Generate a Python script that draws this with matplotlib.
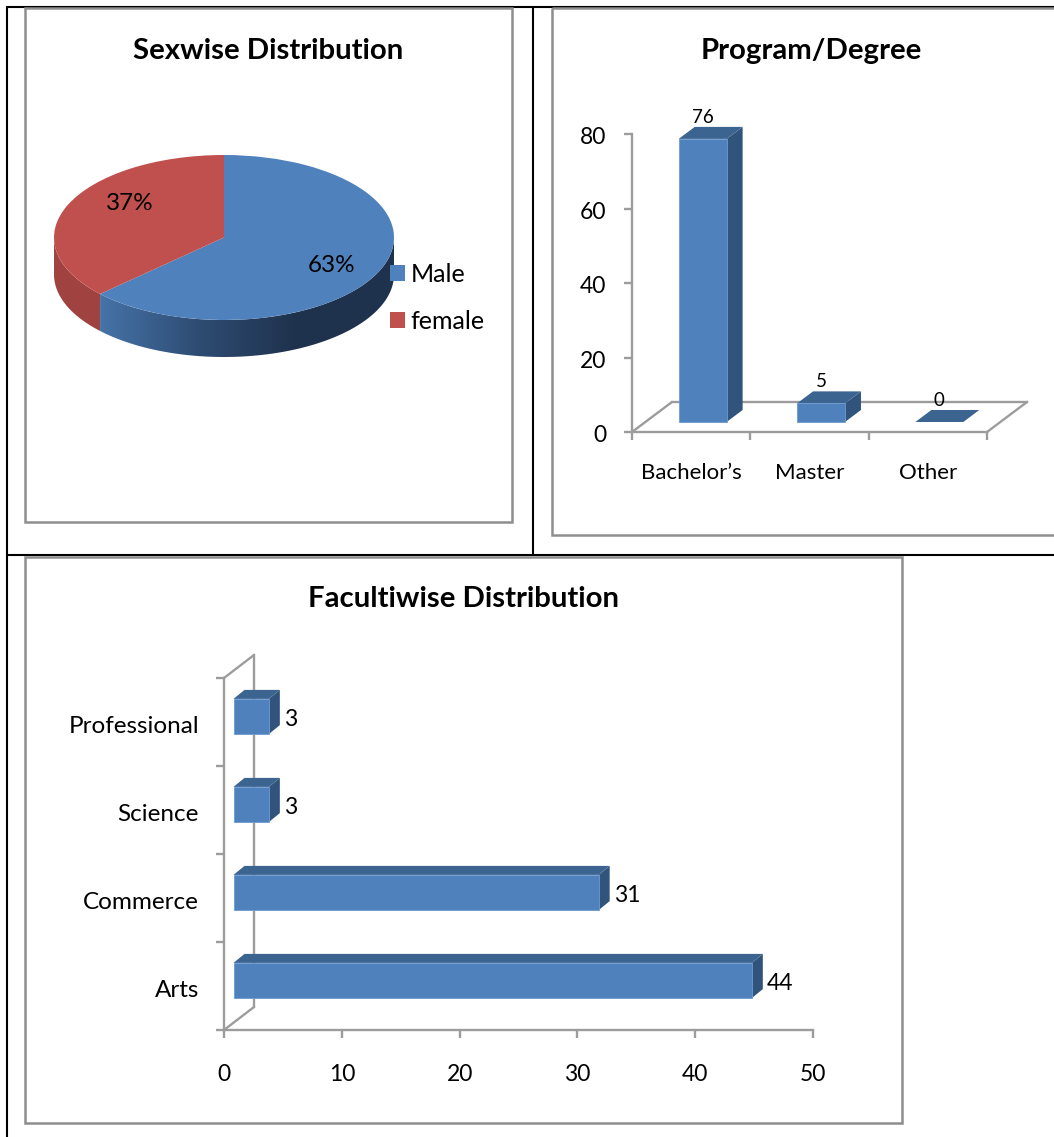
import numpy as np
import matplotlib
matplotlib.use("Agg")
import matplotlib.pyplot as plt
from matplotlib.colors import LinearSegmentedColormap
from matplotlib.patches import Polygon, Rectangle
from matplotlib.transforms import Affine2D

# pie data
sex_labels = ["Male", "female"]
sex_pct = [63, 37]

# program/degree data
program_labels = ["Bachelor\u2019s", "Master", "Other"]
program_counts = [76, 5, 0]

# faculty data
faculty_labels = ["Arts", "Commerce", "Science", "Professional"]
faculty_counts = [44, 31, 3, 3]

W, H = 1054, 1137
BLUE = "#4f81bd"
TOP = "#3c6491"
SIDE = "#31547c"
RED = "#c0504d"
RED_SIDE = "#a04340"
AXIS = "#9c9c9c"
FRAME = "#8e8e8e"
AXIS_LW = 1.7

plt.rcParams["font.family"] = ["Lato", "DejaVu Sans"]
fig = plt.figure(figsize=(W / 100, H / 100), dpi=100, facecolor="white")


def box(x0, y0, x1, y1):
    # axes placed by pixel rectangle, y counted from the top
    return fig.add_axes([x0 / W, 1 - y1 / H, (x1 - x0) / W, (y1 - y0) / H])


# page layer for the table lines, chart frames and titles
page = box(0, 0, W, H)
page.set_xlim(0, W)
page.set_ylim(H, 0)
page.axis("off")
page.set_zorder(3)

for xs, ys in [((7, 7), (6, H)), ((6, W), (7, 7)), ((533, 533), (7, 554)), ((7, W), (554.5, 554.5))]:
    page.plot(xs, ys, color="black", lw=1.5, solid_capstyle="butt", zorder=1)

for x0, y0, x1, y1 in [(25, 8, 512, 522), (552, 8, 1065, 534.5), (25, 556.5, 902, 1122.5)]:
    page.add_patch(Rectangle((x0, y0), x1 - x0, y1 - y0, fill=False, ec=FRAME, lw=1.8, zorder=2))

for txt, x, y in [("Sexwise Distribution", 268, 51), ("Program/Degree", 811, 51),
                  ("Facultiwise Distribution", 463, 599)]:
    page.text(x, y, txt, fontsize=21.2, fontweight="bold", ha="center", va="center")

# ---- pie ----
ax1 = box(54, 155, 394, 320)
wedges, _ = ax1.pie(sex_pct, colors=[BLUE, RED], startangle=90, counterclock=False, radius=1)
ax1.set_aspect("auto")
ax1.patch.set_visible(False)

thick = 37 / 82.5
split = 2 * np.pi * sex_pct[0] / sum(sex_pct)  # clockwise from the top
t_blue = np.linspace(np.pi / 2, split, 120)
t_red = np.linspace(split, 3 * np.pi / 2, 60)


def wall(t):
    xs, ys = np.sin(t), np.cos(t)
    return np.r_[np.c_[xs, ys], np.c_[xs, ys - thick][::-1]]


ax1.add_patch(Polygon(wall(t_red), fc=RED_SIDE, ec="none", clip_on=False, zorder=0))
blue_wall = Polygon(wall(t_blue), fc="none", ec="none", clip_on=False, zorder=0)
ax1.add_patch(blue_wall)
shade = LinearSegmentedColormap.from_list("wall", ["#4673a8", "#2e4c73", "#1f324d", "#1f324d"])
im = ax1.imshow(np.linspace(0, 1, 256)[None, :], cmap=shade, extent=[np.sin(split), 1, -1 - thick, 1],
                aspect="auto", zorder=0)
im.set_clip_box(fig.bbox)  # the wall hangs below the axes box
im.set_clip_path(blue_wall)
ax1.set_xlim(-1, 1)
ax1.set_ylim(-1, 1)

page.text(332, 266, f"{sex_pct[0]}%", fontsize=17.5, ha="center", va="center")
page.text(130, 203, f"{sex_pct[1]}%", fontsize=17.5, ha="center", va="center")
fig.legend(wedges, sex_labels, loc="upper left", bbox_to_anchor=(367.5 / W, 1 - 240 / H), frameon=False,
           fontsize=18, handlelength=0.6, handleheight=0.6, handletextpad=0.22, labelspacing=0.98)


def style_axis(ax):
    ax.patch.set_visible(False)
    for s in ["top", "right"]:
        ax.spines[s].set_visible(False)
    for s in ["left", "bottom"]:
        ax.spines[s].set_color(AXIS)
        ax.spines[s].set_linewidth(AXIS_LW)
    ax.tick_params(which="major", color=AXIS, width=AXIS_LW, length=5.6)
    ax.tick_params(which="minor", length=0)


def depth_line(ax, xy, back):
    # connector from the front axis corner to the back wall/floor
    ax.annotate("", xy=xy, xycoords=back, xytext=xy, textcoords=ax.transData,
                arrowprops=dict(arrowstyle="-", color=AXIS, lw=AXIS_LW, shrinkA=0, shrinkB=0), zorder=1)


def add_poly(ax, pts, fc, z=3):
    # pts: (x, y, transform) triples, drawn in display space
    d = [tr.transform((x, y)) for x, y, tr in pts]
    ax.add_patch(Polygon(d, fc=fc, ec="none", transform=None, clip_on=False, zorder=z))


def nudge_down(labels, px):
    for lab in labels:
        lab.set_transform(lab.get_transform() + Affine2D().translate(0, -px))


# ---- vertical 3d bars ----
ax2 = box(632, 134, 987, 432)
n = len(program_labels)
ax2.set_xlim(0, n)
ax2.set_ylim(0, 80)
style_axis(ax2)
ax2.set_yticks([0, 20, 40, 60, 80])
ax2.set_xticks(range(n + 1))
ax2.set_xticklabels([])
ax2.set_xticks(np.arange(n) + 0.5, program_labels, minor=True)
ax2.tick_params(axis="y", labelsize=16.5, pad=13)
ax2.tick_params(axis="x", which="minor", labelsize=16, pad=22.5)
nudge_down(ax2.get_yticklabels(), 1.5)

# floor
fl = ax2.transData + Affine2D().translate(40, 30)
ax2.plot([0, n], [0, 0], color=AXIS, lw=AXIS_LW, transform=fl, clip_on=False, zorder=1)
for x in (0, n):
    depth_line(ax2, (x, 0), fl)

bw = 0.405
fr = ax2.transData + Affine2D().translate(11.5, 10)
bk = ax2.transData + Affine2D().translate(27.5, 22)

for i, v in enumerate(program_counts):
    x0, x1 = i + 0.5 - bw / 2, i + 0.5 + bw / 2
    add_poly(ax2, [(x1, 0, fr), (x1, 0, bk), (x1, v, bk), (x1, v, fr)], SIDE)
    add_poly(ax2, [(x0, v, fr), (x1, v, fr), (x1, v, bk), (x0, v, bk)], TOP)
    if v > 0:
        ax2.bar(i + 0.5, v, bw, color=BLUE, ec="#6f9bd1", lw=0.6, transform=fr, clip_on=False, zorder=4)
    ax2.annotate(str(v), xy=(i + 0.5, v), xycoords=bk, xytext=(-16, 1), textcoords="offset pixels",
                 ha="center", va="bottom", fontsize=13.5, zorder=5)

# ---- horizontal 3d bars ----
ax3 = box(224, 678, 813, 1030)
m = len(faculty_labels)
ax3.set_xlim(0, 50)
ax3.set_ylim(0, m)
style_axis(ax3)
ax3.set_xticks(range(0, 51, 10))
ax3.set_yticks(range(m + 1))
ax3.set_yticklabels([])
ax3.set_yticks(np.arange(m) + 0.5, faculty_labels, minor=True)
ax3.tick_params(axis="x", labelsize=16.5, pad=19)
ax3.tick_params(axis="y", which="minor", labelsize=17.5, pad=18)
nudge_down(ax3.get_yticklabels(minor=True), 2.5)

wl = ax3.transData + Affine2D().translate(30, 23)
ax3.plot([0, 0], [0, m], color=AXIS, lw=AXIS_LW, transform=wl, clip_on=False, zorder=1)
for y in (0, m):
    depth_line(ax3, (0, y), wl)

bh = 0.4
fr3 = ax3.transData + Affine2D().translate(9.5, 5.5)
bk3 = ax3.transData + Affine2D().translate(20.5, 14.5)
for i, v in enumerate(faculty_counts):
    y0, y1 = i + 0.5 - bh / 2, i + 0.5 + bh / 2
    add_poly(ax3, [(v, y0, fr3), (v, y0, bk3), (v, y1, bk3), (v, y1, fr3)], SIDE)
    add_poly(ax3, [(0, y1, fr3), (v, y1, fr3), (v, y1, bk3), (0, y1, bk3)], TOP)
    ax3.barh(i + 0.5, v, bh, color=BLUE, ec="#6f9bd1", lw=0.6, transform=fr3, clip_on=False, zorder=4)
    ax3.annotate(str(v), xy=(v, i + 0.5), xycoords=fr3, xytext=(15, -3), textcoords="offset pixels",
                 ha="left", va="center", fontsize=16.5, zorder=5)

fig.savefig("out.png", dpi=100)
